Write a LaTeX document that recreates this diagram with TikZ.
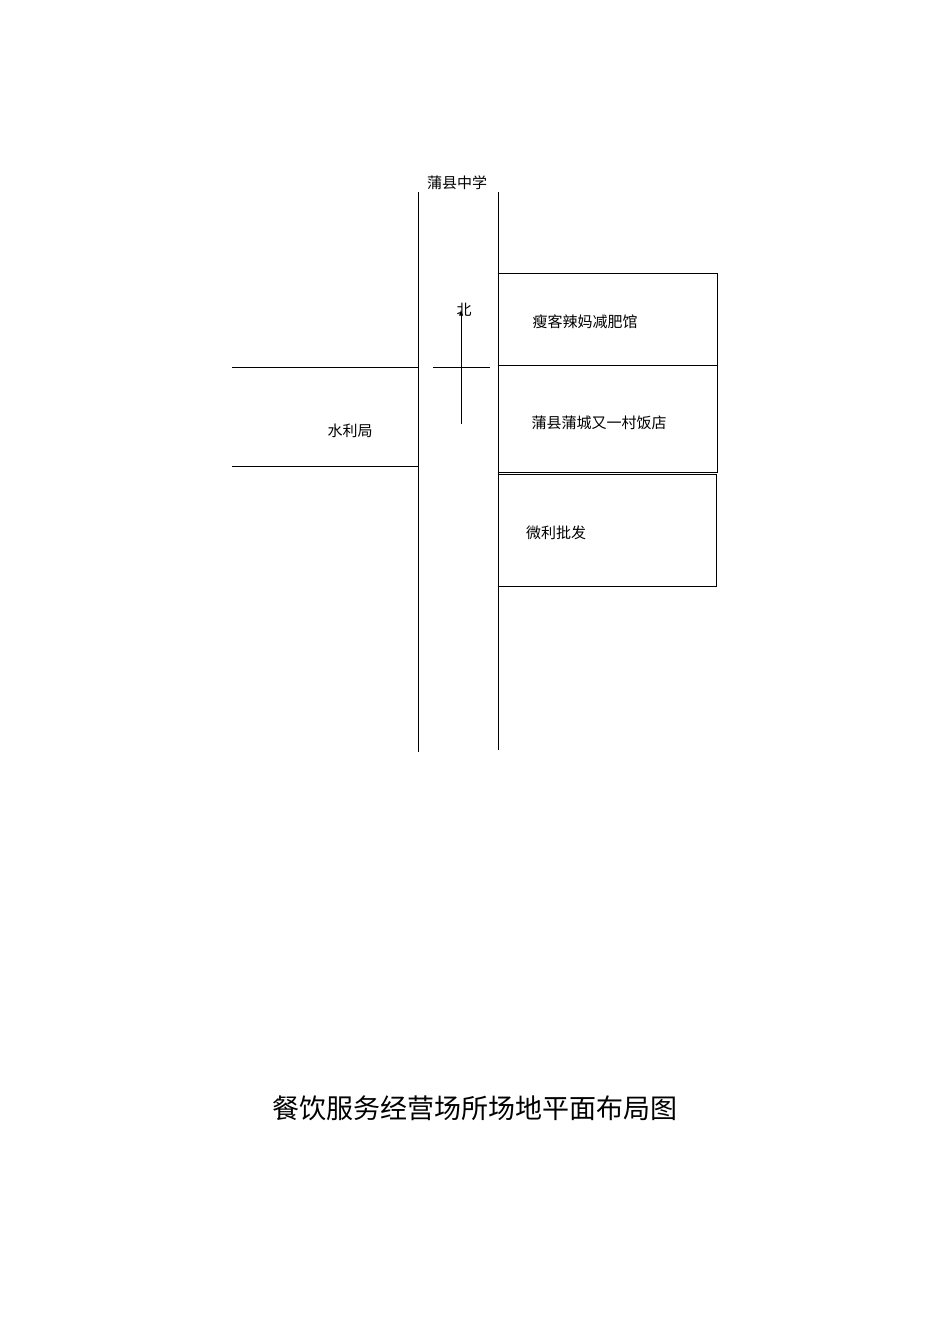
\documentclass[tikz,border=0pt]{standalone}
\usepackage{fontspec}
\newfontfamily\cjk{Noto Sans CJK SC}
\begin{document}
\begin{tikzpicture}[x=1pt,y=-1pt,line width=0.9pt,
  lbl/.style={font=\cjk\fontsize{15}{17}\selectfont,inner sep=0pt},
  shop/.style={draw,line width=0.9pt}]
\useasboundingbox (0,0) rectangle (950,1344);
\draw (418,192) -- (418,752);
\draw (498,192) -- (498,750);
\draw (232,367) -- (418,367);
\draw (232,466) -- (418,466);
\draw (433,367) -- (490,367);
\draw[-latex] (461,424) -- (461,310);
\draw[shop] (498,273) rectangle (717,365);
\draw[shop] (498,365) rectangle (717,472);
\draw[shop] (498,474) rectangle (716,586);
\node[lbl] (t1) at (457,183) {蒲县中学};
\node[lbl] (t2) at (464,310) {北};
\node[lbl] (t3) at (585,322) {瘦客辣妈减肥馆};
\node[lbl] (t4) at (599,423) {蒲县蒲城又一村饭店};
\node[lbl] (t5) at (556,533) {微利批发};
\node[lbl] (t6) at (350,431) {水利局};
\node[font=\cjk\fontsize{27}{30}\selectfont,inner sep=0pt] (title) at (475,1108) {餐饮服务经营场所场地平面布局图};
\end{tikzpicture}
\end{document}
